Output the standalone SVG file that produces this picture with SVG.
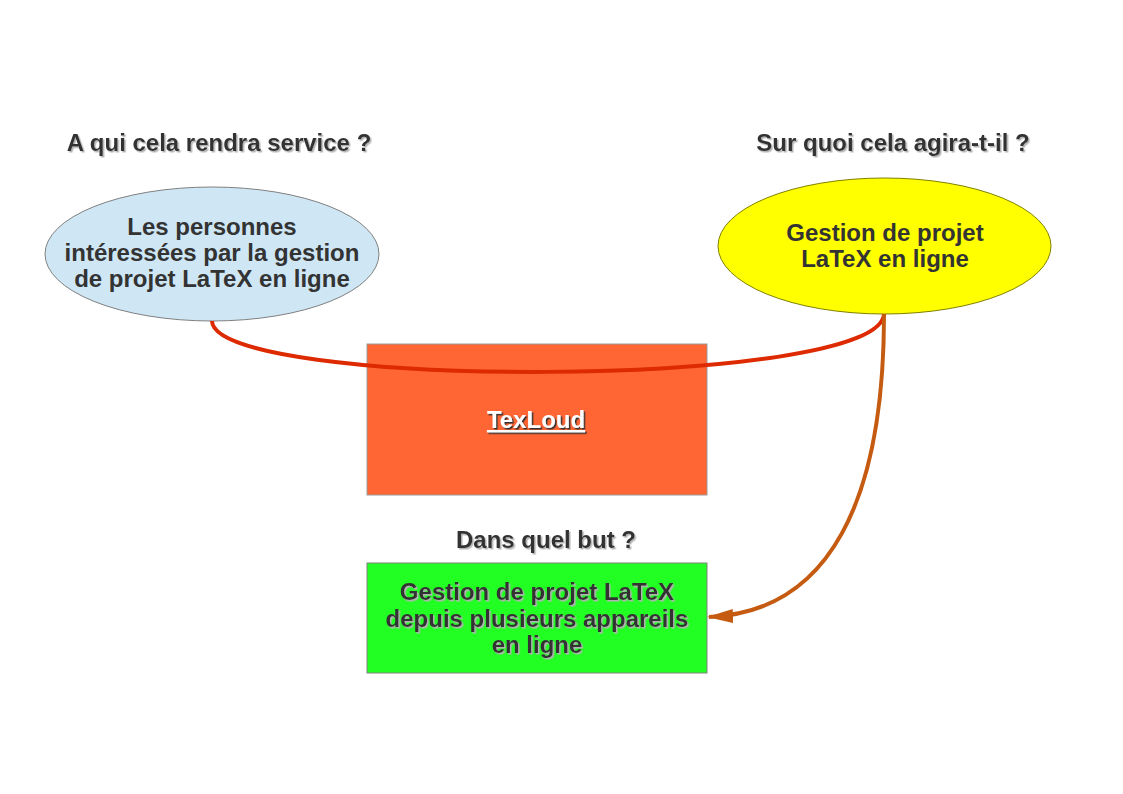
<svg xmlns="http://www.w3.org/2000/svg" width="1123" height="794" viewBox="0 0 1123 794">
<style>
.t{font-family:"Liberation Sans",Arial,sans-serif;font-weight:bold;text-anchor:middle;fill:#333333}
.h{font-size:24px}
.b{font-size:24px}
.w{fill:#ffffff;text-decoration:underline}
.sh{filter:url(#shd)}
.shw{filter:url(#shdw)}
</style>
<defs>
<filter id="shd" x="-10%" y="-30%" width="120%" height="160%">
<feDropShadow dx="1.5" dy="1.5" stdDeviation="0" flood-color="#b3b3b3" flood-opacity="1"/>
</filter>
<filter id="shdw" x="-10%" y="-30%" width="120%" height="160%">
<feDropShadow dx="1.5" dy="1.5" stdDeviation="0" flood-color="#333333" flood-opacity="1"/>
</filter>
<marker id="arr" markerWidth="26" markerHeight="16" refX="24" refY="8" orient="auto" markerUnits="userSpaceOnUse">
<path d="M0,1 L26,8 L0,15 Z" fill="#c55a11"/>
</marker>
</defs>
<rect width="1123" height="794" fill="#ffffff"/>
<g id="title-left"><text class="t h sh" x="219" y="151">A qui cela rendra service ?</text></g>
<g id="title-right"><text class="t h sh" x="893" y="151">Sur quoi cela agira-t-il ?</text></g>
<g id="title-bottom"><text class="t h sh" x="546" y="548">Dans quel but ?</text></g>
<g id="node-personnes">
<ellipse cx="212" cy="254" rx="167" ry="67" fill="#cfe7f5" stroke="#808080" stroke-width="1"/>
<text class="t b" x="212" y="235">Les personnes</text>
<text class="t b" x="212" y="261">intéressées par la gestion</text>
<text class="t b" x="212" y="287">de projet LaTeX en ligne</text>
</g>
<g id="node-gestion">
<ellipse cx="884.5" cy="246" rx="166.5" ry="68" fill="#ffff00" stroke="#808000" stroke-width="1"/>
<text class="t b" x="885" y="241">Gestion de projet</text>
<text class="t b" x="885" y="267">LaTeX en ligne</text>
</g>
<g id="node-texloud">
<rect x="367" y="344" width="340" height="151" fill="#ff6633" stroke="#999999" stroke-width="1"/>
<text class="t b w shw" x="536" y="428">TexLoud</text>
</g>
<g id="node-but">
<rect x="367" y="563" width="340" height="110" fill="#22ff22" stroke="#808080" stroke-width="1"/>
<text class="t b sh" x="537" y="600">Gestion de projet LaTeX</text>
<text class="t b sh" x="537" y="627">depuis plusieurs appareils</text>
<text class="t b sh" x="537" y="653">en ligne</text>
</g>
<g id="connectors" fill="none">
<path d="M212,321 C214,390 880,390 884,314" stroke="#dd2a00" stroke-width="4"/>
<path d="M884,314 C884,500 830,612 709,617" stroke="#c55a11" stroke-width="4" marker-end="url(#arr)"/>
</g>
</svg>
